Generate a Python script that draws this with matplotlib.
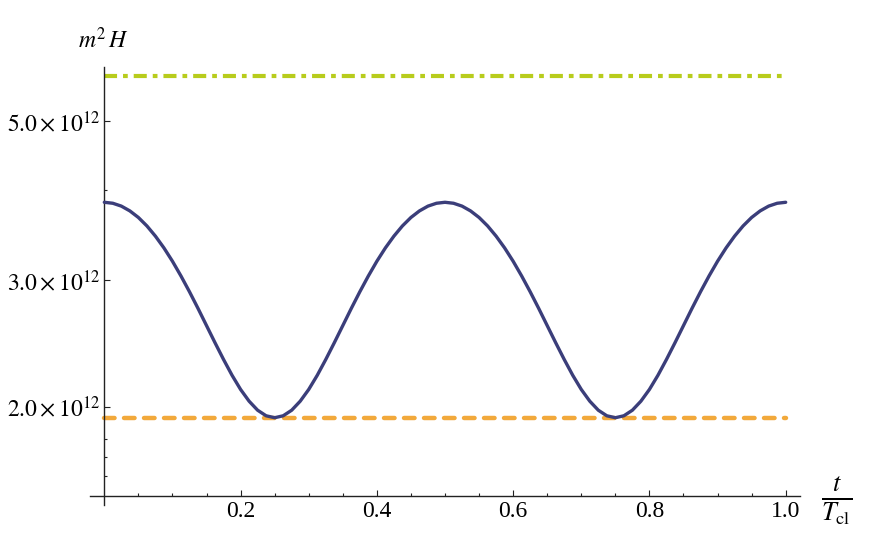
import matplotlib
matplotlib.use("Agg")
import matplotlib.pyplot as plt
from matplotlib.ticker import FixedLocator, NullFormatter

# curve, t in units of T_cl (step 0.0125)
t = [i / 80 for i in range(81)]
H = [3.850, 3.838, 3.803, 3.745, 3.667, 3.569, 3.454, 3.326, 3.187, 3.040,
     2.890, 2.740, 2.593, 2.454, 2.326, 2.211, 2.113, 2.035, 1.977, 1.942,
     1.930, 1.942, 1.977, 2.035, 2.113, 2.211, 2.326, 2.454, 2.593, 2.740,
     2.890, 3.040, 3.187, 3.326, 3.454, 3.569, 3.667, 3.745, 3.803, 3.838,
     3.850, 3.838, 3.803, 3.745, 3.667, 3.569, 3.454, 3.326, 3.187, 3.040,
     2.890, 2.740, 2.593, 2.454, 2.326, 2.211, 2.113, 2.035, 1.977, 1.942,
     1.930, 1.942, 1.977, 2.035, 2.113, 2.211, 2.326, 2.454, 2.593, 2.740,
     2.890, 3.040, 3.187, 3.326, 3.454, 3.569, 3.667, 3.745, 3.803, 3.838,
     3.850]
H = [h * 1e12 for h in H]
upper = 5.78e12
lower = 1.93e12

major_y = [2e12, 3e12, 5e12]
major_y_labels = [r'$2.0\times10^{12}$', r'$3.0\times10^{12}$', r'$5.0\times10^{12}$']
minor_y = [1.6e12, 1.7e12, 1.8e12, 4e12]
major_x = [0.2, 0.4, 0.6, 0.8, 1.0]
major_x_labels = ['0.2', '0.4', '0.6', '0.8', '1.0']
minor_x = [0.05, 0.1, 0.15, 0.25, 0.3, 0.35, 0.45, 0.5, 0.55, 0.65, 0.7, 0.75, 0.85, 0.9, 0.95]

plt.rcParams['font.family'] = ['Liberation Serif', 'DejaVu Serif']
plt.rcParams['mathtext.fontset'] = 'stix'
plt.rcParams['lines.scale_dashes'] = False

fig = plt.figure(figsize=(8.72, 5.4), dpi=100)
ax = fig.add_axes([90 / 872, 35 / 540, 710 / 872, 438 / 540])

ax.plot(t, H, color='#3b3e7a', lw=2.4, solid_capstyle='round',
        solid_joinstyle='round', zorder=3)
ax.plot([0, 1], [lower, lower], color='#f2a93b', lw=3.2,
        dashes=(7.6, 6.8), dash_capstyle='round', zorder=2)
ax.plot([0, 1], [upper, upper], color='#b8cc1c', lw=3.0,
        dashes=(9.4, 4.3, 3.4, 4.3), dash_capstyle='butt', zorder=2)

ax.set_yscale('log')
ax.set_xlim(-0.021, 1.021)
ax.set_ylim(1.459e12, 5.94e12)

for s in ['top', 'right']:
    ax.spines[s].set_visible(False)
ax.spines['left'].set_position(('data', 0))
ax.spines['bottom'].set_position(('data', 1.5e12))
for s in ['left', 'bottom']:
    ax.spines[s].set_linewidth(1.0)
    ax.spines[s].set_color('#222222')

ax.yaxis.set_major_locator(FixedLocator(major_y))
ax.yaxis.set_minor_locator(FixedLocator(minor_y))
ax.set_yticklabels(major_y_labels)
ax.yaxis.set_minor_formatter(NullFormatter())
ax.xaxis.set_major_locator(FixedLocator(major_x))
ax.xaxis.set_minor_locator(FixedLocator(minor_x))
ax.set_xticklabels(major_x_labels)

ax.tick_params(which='both', direction='in', colors='#222222', labelcolor='black',
               labelsize=17, width=0.8)
ax.tick_params(which='major', length=4, pad=3)
ax.tick_params(which='minor', length=2.5)

fig.text(103 / 872, 1 - 40 / 540, r'$m^2\,H$', fontsize=17, ha='center', va='center')
fig.text(837 / 872, 1 - 501 / 540, r'$\frac{t}{T_{\mathrm{cl}}}$', fontsize=27,
         ha='center', va='center')

fig.savefig('out.png', dpi=100)
